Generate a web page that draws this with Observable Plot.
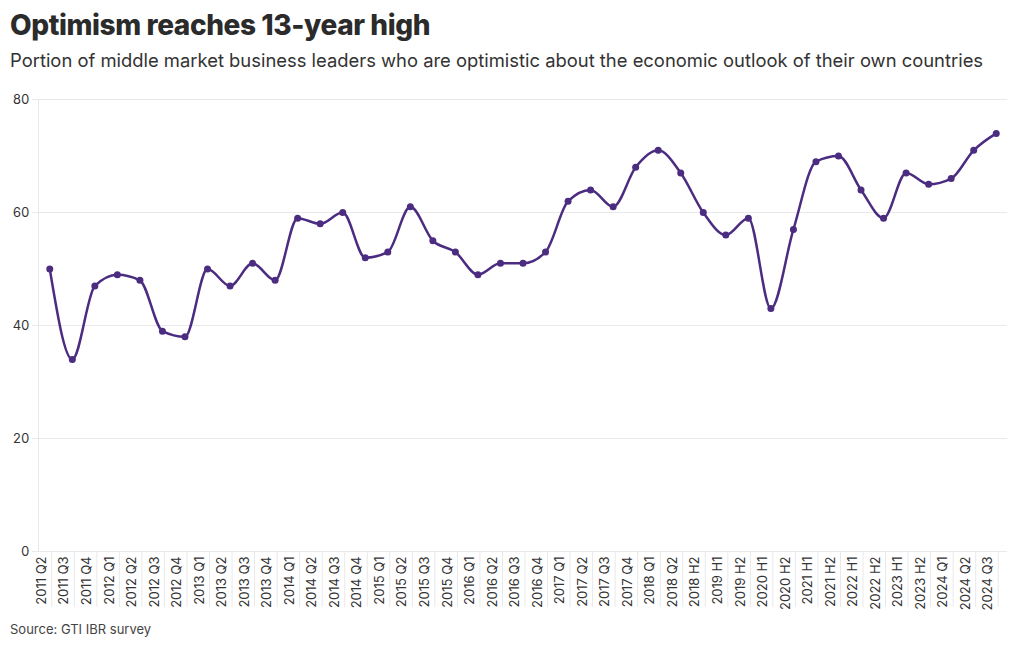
<!DOCTYPE html>
<html>
<head>
<meta charset="utf-8">
<script src="https://cdn.jsdelivr.net/npm/d3@7"></script>
<script src="https://cdn.jsdelivr.net/npm/@observablehq/plot@0.6"></script>
<style>
  html, body { margin: 0; padding: 0; background: #fff; }
  body { width: 1020px; height: 650px; overflow: hidden; font-family: Inter, "Noto Sans", sans-serif; color: #2d2d2d; }
  #title { position: absolute; left: 10px; top: 11px; font-size: 28px; line-height: 28px; font-weight: 800; color: #2b2b2b; letter-spacing: -0.4px; white-space: nowrap; }
  #subtitle { position: absolute; left: 10px; top: 51px; font-size: 18.4px; line-height: 18px; font-weight: 400; color: #333; white-space: nowrap; }
  #chart { position: absolute; left: 0; top: 85px; }
  #caption { position: absolute; left: 10px; top: 623px; font-size: 13px; line-height: 13px; color: #444; white-space: nowrap; }
</style>
</head>
<body>
<div id="title">Optimism reaches 13-year high</div>
<div id="subtitle">Portion of middle market business leaders who are optimistic about the economic outlook of their own countries</div>
<div id="chart"></div>
<div id="caption">Source: GTI IBR survey</div>
<script>
const periods = [
  "2011 Q2","2011 Q3","2011 Q4","2012 Q1","2012 Q2","2012 Q3","2012 Q4",
  "2013 Q1","2013 Q2","2013 Q3","2013 Q4","2014 Q1","2014 Q2","2014 Q3","2014 Q4",
  "2015 Q1","2015 Q2","2015 Q3","2015 Q4","2016 Q1","2016 Q2","2016 Q3","2016 Q4",
  "2017 Q1","2017 Q2","2017 Q3","2017 Q4","2018 Q1","2018 Q2","2018 H2",
  "2019 H1","2019 H2","2020 H1","2020 H2","2021 H1","2021 H2","2022 H1","2022 H2",
  "2023 H1","2023 H2","2024 Q1","2024 Q2","2024 Q3"
];
const optimism = [
  50, 34, 47, 49, 48, 39, 38,
  50, 47, 51, 48, 59, 58, 60, 52,
  53, 61, 55, 53, 49, 51, 51, 53,
  62, 64, 61, 68, 71, 67, 60,
  56, 59, 43, 57, 69, 70, 64, 59,
  67, 65, 66, 71, 74
];
const yTicks = [0, 20, 40, 60, 80];

const data = periods.map((p, i) => ({period: p, value: optimism[i]}));
const purple = "#4b2c80";
const grid = "#e9e9e9";

const chart = Plot.plot({
  width: 1020,
  height: 527,
  marginLeft: 38,
  marginRight: 13,
  marginTop: 14,
  marginBottom: 61,
  style: {fontFamily: "Inter, 'Noto Sans', sans-serif", fontSize: "13px", color: "#333", background: "transparent"},
  x: {type: "point", domain: periods, padding: 0.5, round: false, label: null},
  y: {domain: [0, 80], label: null},
  marks: [
    Plot.gridY(yTicks, {stroke: grid, strokeOpacity: 1}),
    Plot.frame({anchor: "left", stroke: grid}),
    Plot.axisY(yTicks, {tickSize: 6, tickPadding: 3, stroke: grid, fill: "#333", fontSize: 13, label: null}),
    Plot.axisX({tickSize: 56, tickFormat: () => "", stroke: grid, dx: 2, label: null}),
    Plot.axisX({tickSize: 0, tickRotate: -90, tickPadding: 5, dx: -8, fill: "#333", fontSize: 13, label: null}),
    Plot.lineY(data, {x: "period", y: "value", curve: "monotone-x", stroke: purple, strokeWidth: 2.5}),
    Plot.dot(data, {x: "period", y: "value", r: 3.5, fill: purple})
  ]
});
document.getElementById("chart").appendChild(chart);
</script>
</body>
</html>
